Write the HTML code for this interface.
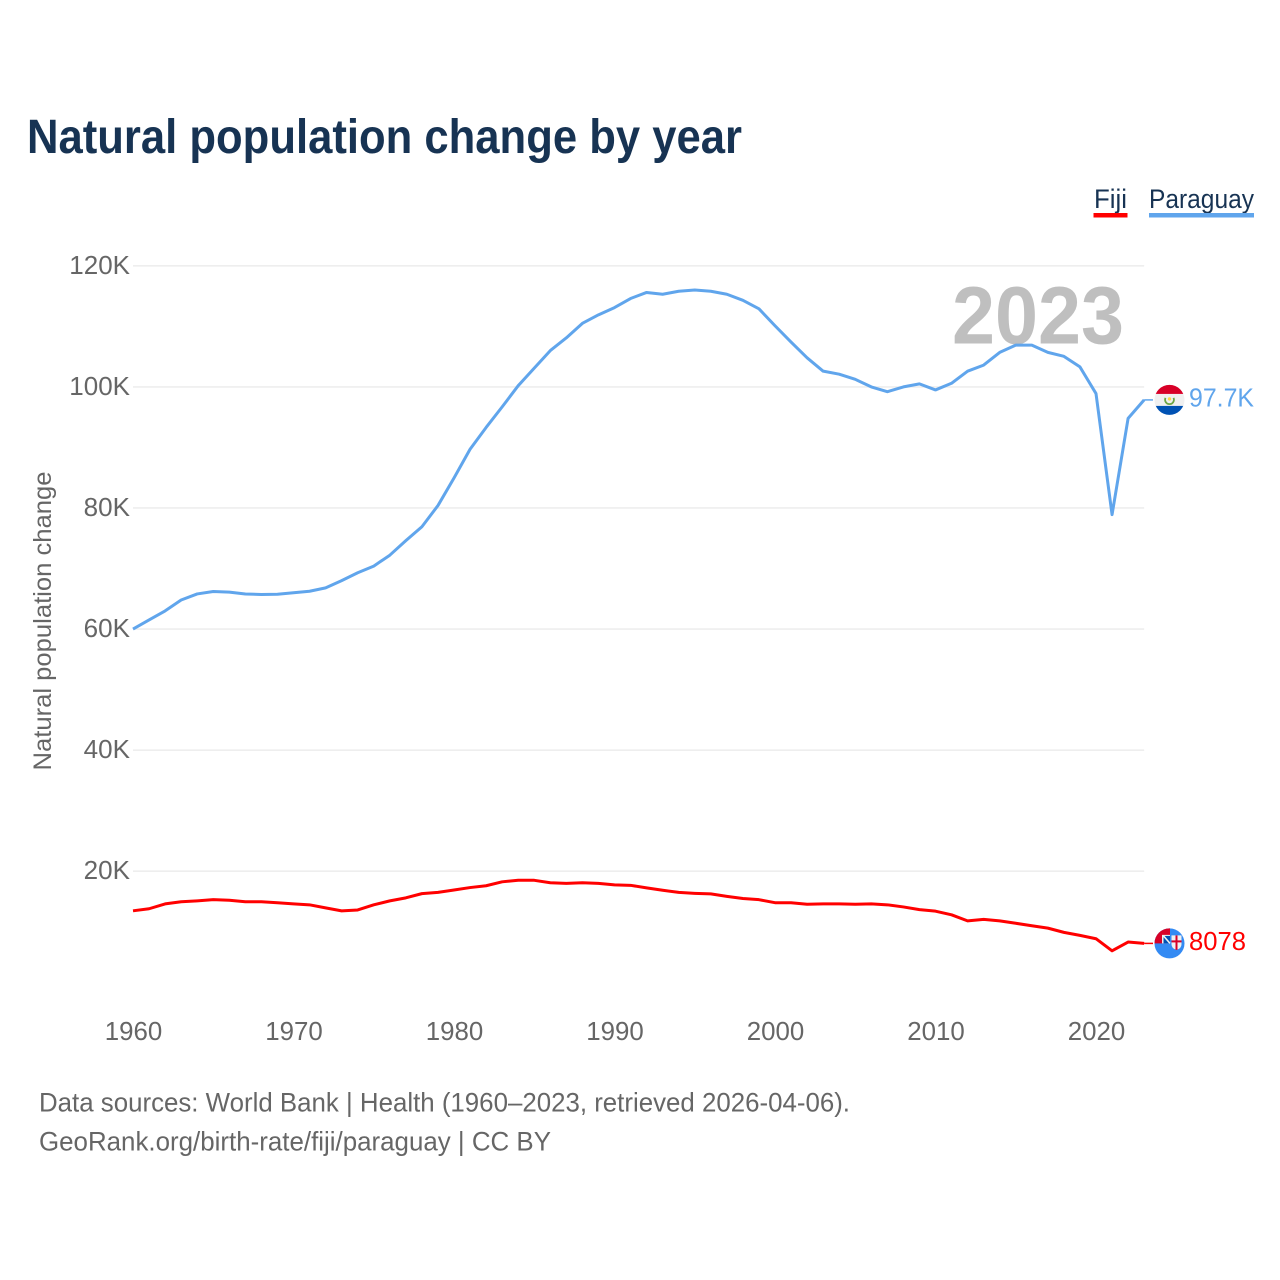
<!DOCTYPE html>
<html lang="en">
<head>
<meta charset="utf-8">
<title>Natural population change by year</title>
<style>
  html, body { margin: 0; padding: 0; background: #ffffff; }
  svg { display: block; font-family: "Liberation Sans", sans-serif; }
</style>
</head>
<body>
<svg id="chart" xmlns="http://www.w3.org/2000/svg" width="1280" height="1280" viewBox="0 0 1280 1280">
  <rect x="0" y="0" width="1280" height="1280" fill="#ffffff"/>
  <text x="27" y="153" font-size="48" font-weight="bold" fill="#173353" textLength="715" lengthAdjust="spacingAndGlyphs">Natural population change by year</text>

  <g>
    <g>
      <text x="1094" y="208" font-size="27" fill="#173353" textLength="33" lengthAdjust="spacingAndGlyphs">Fiji</text>
      <rect x="1093.5" y="213" width="34" height="4.5" fill="#ff0000"/>
    </g>
    <g>
      <text x="1149" y="208" font-size="27" fill="#173353" textLength="105" lengthAdjust="spacingAndGlyphs">Paraguay</text>
      <rect x="1149" y="213" width="105" height="4.5" fill="#60a5ec"/>
    </g>
  </g>

  <g id="grid"></g>
  <g id="yTicks"></g>
  <g id="xTicks"></g>

  <text transform="translate(51 621) rotate(-90)" text-anchor="middle" font-size="25" fill="#666666" textLength="299" lengthAdjust="spacingAndGlyphs">Natural population change</text>

  <text x="1124" y="343.5" text-anchor="end" font-size="82" font-weight="bold" fill="#bfbfbf" textLength="172" lengthAdjust="spacingAndGlyphs">2023</text>

  <g id="series"></g>
  <g id="endMarks"></g>

  <text x="39" y="1111.5" font-size="27" fill="#666666" textLength="811" lengthAdjust="spacingAndGlyphs">Data sources: World Bank | Health (1960–2023, retrieved 2026-04-06).</text>
  <text x="39" y="1150.5" font-size="27" fill="#666666" textLength="512" lengthAdjust="spacingAndGlyphs">GeoRank.org/birth-rate/fiji/paraguay | CC BY</text>
</svg>

<script>
const years = [1960,1961,1962,1963,1964,1965,1966,1967,1968,1969,1970,1971,1972,1973,1974,1975,1976,1977,1978,1979,1980,1981,1982,1983,1984,1985,1986,1987,1988,1989,1990,1991,1992,1993,1994,1995,1996,1997,1998,1999,2000,2001,2002,2003,2004,2005,2006,2007,2008,2009,2010,2011,2012,2013,2014,2015,2016,2017,2018,2019,2020,2021,2022,2023];
const paraguayValues = [60000,61500,63000,64800,65800,66200,66100,65800,65700,65750,66000,66250,66800,68000,69300,70400,72200,74600,76900,80400,84950,89700,93300,96700,100200,103100,106000,108100,110500,111900,113100,114600,115600,115300,115800,116000,115800,115300,114300,112900,110100,107400,104800,102600,102100,101250,100000,99200,100000,100500,99500,100600,102600,103600,105700,106900,106900,105700,105050,103300,98900,78900,94800,97850];
const fijiValues = [13460,13800,14600,14950,15100,15300,15200,14950,14950,14800,14600,14450,13950,13450,13600,14450,15100,15600,16300,16500,16900,17300,17600,18250,18500,18500,18100,18000,18100,18000,17750,17670,17250,16850,16500,16350,16250,15850,15500,15300,14800,14800,14550,14600,14600,14550,14600,14450,14100,13650,13400,12800,11800,12050,11800,11400,11000,10600,9900,9400,8850,6850,8300,8078];
const yTickValues = [20000,40000,60000,80000,100000,120000];
const yTickLabels = ["20K","40K","60K","80K","100K","120K"];
const xTickValues = [1960,1970,1980,1990,2000,2010,2020];
const xTickLabels = ["1960","1970","1980","1990","2000","2010","2020"];
const paraguayLabel = "97.7K";
const fijiLabel = "8078";

const NS = "http://www.w3.org/2000/svg";
const xScale = function (year) { return 133 + (year - 1960) * 16.05; };
const yScale = function (value) { return 992.3 - value * 0.006054; };
const PLOT_RIGHT = xScale(2023);

function make(tag, attrs, parent) {
  const el = document.createElementNS(NS, tag);
  Object.keys(attrs).forEach(function (k) { el.setAttribute(k, attrs[k]); });
  parent.appendChild(el);
  return el;
}
function digitWidth(label) {
  let w = 0;
  for (const c of label) { w += c === "K" ? 17.5 : c === "." ? 6.5 : 14.4; }
  return w;
}

const gridGroup = document.getElementById("grid");
const yGroup = document.getElementById("yTicks");
yTickValues.forEach(function (v, i) {
  const line = make("line", { x1: 133, x2: PLOT_RIGHT, y1: yScale(v), y2: yScale(v), stroke: "#eeeeee", "stroke-width": 1.6 }, gridGroup);
  
  
  const t = make("text", { x: 130, y: yScale(v) + 8, "text-anchor": "end", "font-size": 26, fill: "#666666", textLength: digitWidth(yTickLabels[i]), lengthAdjust: "spacingAndGlyphs" }, yGroup);
  t.textContent = yTickLabels[i];
  
  
});

const xGroup = document.getElementById("xTicks");
xTickValues.forEach(function (v, i) {
  const t = make("text", { x: xScale(v) + 0.5, y: 1040, "text-anchor": "middle", "font-size": 26, fill: "#666666", textLength: 57.5, lengthAdjust: "spacingAndGlyphs" }, xGroup);
  t.textContent = xTickLabels[i];
  
  
});

function linePath(values) {
  return values.map(function (v, i) {
    return (i ? "L" : "M") + xScale(years[i]).toFixed(2) + " " + yScale(v).toFixed(2);
  }).join(" ");
}
const seriesGroup = document.getElementById("series");

const paraguayLine = make("path", { d: linePath(paraguayValues), fill: "none", stroke: "#60a5ec", "stroke-width": 3, "stroke-linejoin": "round" }, seriesGroup);



const fijiLine = make("path", { d: linePath(fijiValues), fill: "none", stroke: "#ff0000", "stroke-width": 3, "stroke-linejoin": "round" }, seriesGroup);



const endGroup = document.getElementById("endMarks");

function endMark(values, color, label, labelW, flagFn) {
  const y = yScale(values[values.length - 1]);
  const lead = make("line", { x1: PLOT_RIGHT, x2: 1153, y1: y, y2: y, stroke: color, "stroke-width": 1.5 }, endGroup);
  
  
  const flag = make("g", { transform: "translate(1169.5 " + y + ")" }, endGroup);
  
  
  flagFn(flag);
  const t = make("text", { x: 1189, y: y + 6.5, "font-size": 26, fill: color, textLength: labelW, lengthAdjust: "spacingAndGlyphs" }, endGroup);
  t.textContent = label;
  
  
}

const defs = make("defs", {}, endGroup);
const clip = make("clipPath", { id: "flagClip" }, defs);
make("circle", { cx: 0, cy: 0, r: 15 }, clip);

function paraguayFlag(g) {
  const c = make("g", { "clip-path": "url(#flagClip)" }, g);
  make("rect", { x: -16, y: -16, width: 32, height: 32, fill: "#f0f0f0" }, c);
  make("rect", { x: -16, y: -16, width: 32, height: 10, fill: "#d80027" }, c);
  make("rect", { x: -16, y: 6, width: 32, height: 10, fill: "#0052b4" }, c);
  make("path", { d: "M-4 -2 A4.4 4.4 0 1 0 4 -2", fill: "none", stroke: "#6da544", "stroke-width": 1.8 }, c);
  make("circle", { cx: 0, cy: -1, r: 1.7, fill: "#ffda44" }, c);
}
function fijiFlag(g) {
  const c = make("g", { "clip-path": "url(#flagClip)" }, g);
  make("rect", { x: -16, y: -16, width: 32, height: 32, fill: "#338af3" }, c);
  make("rect", { x: -16, y: -16, width: 16.5, height: 16, fill: "#d80027" }, c);
  make("path", { d: "M-7.5 0 V-8.5 H0.5 V0 Z", fill: "#f0f0f0" }, c);
  make("rect", { x: -6, y: -7.5, width: 6.5, height: 7.5, fill: "#0052b4" }, c);
  make("path", { d: "M-6 -7.5 L0.5 0", stroke: "#f0f0f0", "stroke-width": 1.6 }, c);
  make("path", { d: "M2 -8 H12 V1 Q12 5 7 6.5 Q2 5 2 1 Z", fill: "#f0f0f0" }, c);
  make("rect", { x: 6, y: -8, width: 2, height: 14.5, fill: "#d80027" }, c);
  make("rect", { x: 2, y: -3, width: 10, height: 2, fill: "#d80027" }, c);
}

endMark(paraguayValues, "#60a5ec", paraguayLabel, 65, paraguayFlag);
endMark(fijiValues, "#ff0000", fijiLabel, 57, fijiFlag);
</script>
</body>
</html>
